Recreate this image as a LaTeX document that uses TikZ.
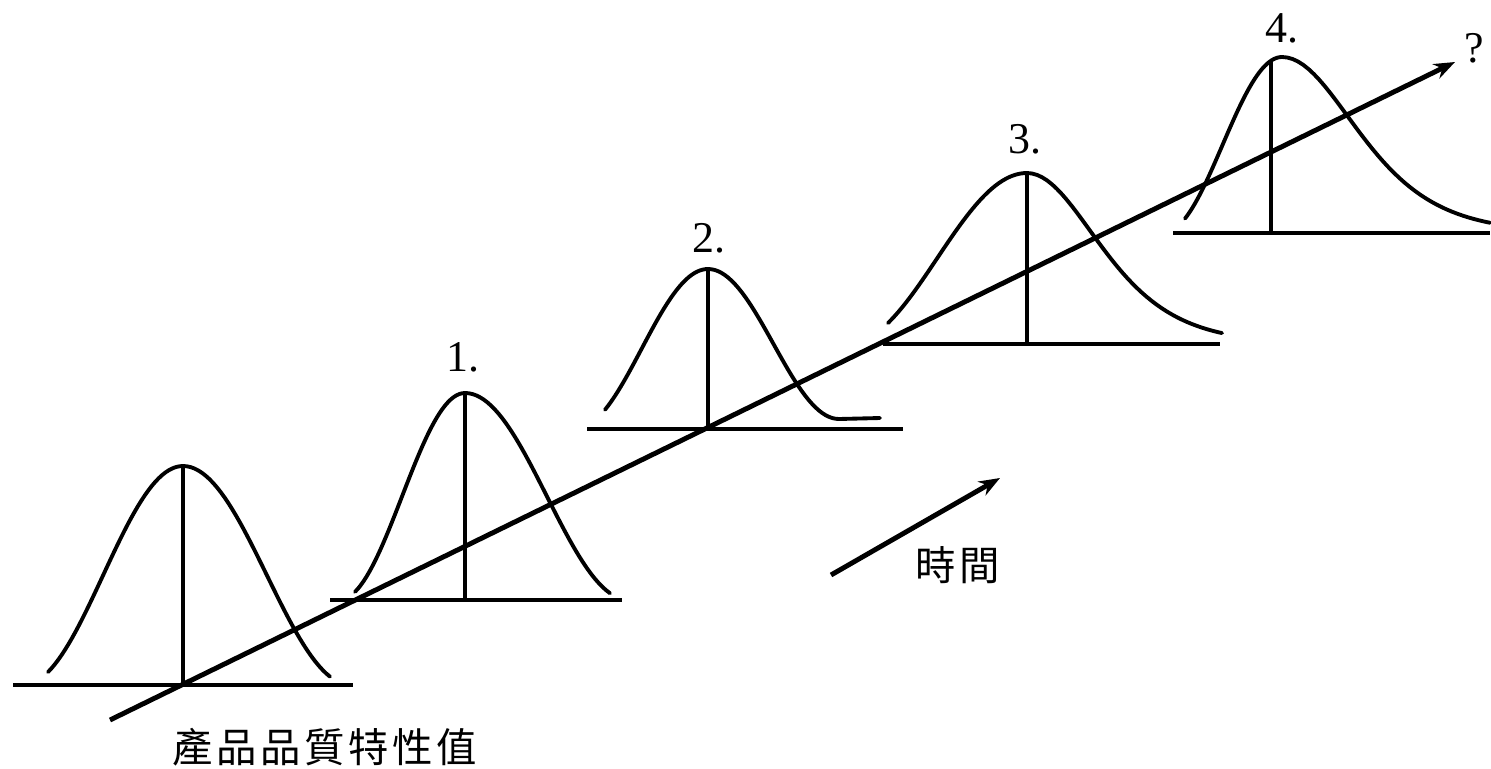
\documentclass[tikz,border=0pt]{standalone}
\usepackage{fontspec}
\setmainfont{Liberation Serif}
\newfontfamily\cjk[LetterSpace=9]{Noto Sans CJK TC}
\usetikzlibrary{arrows.meta, positioning}

\begin{document}
\begin{tikzpicture}[
      x=0.02cm, y=-0.02cm,
      bell/.style={line width=2.2pt, line cap=round, samples=40, variable=\x},
      base/.style={line width=1.8pt},
      mean/.style={line width=1.8pt},
      arr/.style={-{Stealth[length=12pt, width=9pt]}, line width=2.8pt},
      num/.style={font=\fontsize{25}{28}\selectfont, inner sep=0pt},
      cjklabel/.style={font=\cjk\fontsize{23}{26}\selectfont, inner sep=0pt}
    ]
    \useasboundingbox (0,0) rectangle (1491,768);

    % distribution 0
    \coordinate (b0l) at (13,685); \coordinate (b0r) at (353,685);
    \coordinate (p0) at (183,466); \coordinate (f0) at (183,685);
    \draw[base] (b0l) -- (b0r);
    \draw[mean] (p0) -- (f0);
    \draw[bell] plot[domain=48:183] (\x, {685-219*(1+cos((\x-183)/160*180))/2})
      -- plot[domain=183:330] (\x, {685-219*(1+cos((\x-183)/168*180))/2});

    % distribution 1
    \coordinate (b1l) at (330,600); \coordinate (b1r) at (622,600);
    \coordinate (p1) at (465,393); \coordinate (f1) at (465,600);
    \draw[base] (b1l) -- (b1r);
    \draw[mean] (p1) -- (f1);
    \draw[bell] plot[domain=355:465] (\x, {600-207*(1+cos((\x-465)/126*180))/2})
      -- plot[domain=465:610] (\x, {600-207*(1+cos((\x-465)/164*180))/2});
    \node[num] (l1) at (463,357) {1.};

    % distribution 2
    \coordinate (b2l) at (587,429); \coordinate (b2r) at (903,429);
    \coordinate (p2) at (708,269); \coordinate (f2) at (708,429);
    \draw[base] (b2l) -- (b2r);
    \draw[mean] (p2) -- (f2);
    \draw[bell] plot[domain=605:708] (\x, {429-160*(1+cos((\x-708)/133*180))/2})
      -- plot[domain=708:839] (\x, {419-150*(1+cos((\x-708)/131*180))/2})
      -- (880,418);
    \node[num] (l2) at (709,238) {2.};

    % distribution 3
    \coordinate (b3l) at (883,344); \coordinate (b3r) at (1220,344);
    \coordinate (p3) at (1027,173); \coordinate (f3) at (1027,344);
    \draw[base] (b3l) -- (b3r);
    \draw[mean] (p3) -- (f3);
    \draw[bell] plot[domain=888:1027] (\x, {344-171*(1+cos((\x-1027)/180*180))/2})
      -- plot[domain=1027:1222] (\x, {344-171/(cosh((\x-1027)/95))^2});
    \node[num] (l3) at (1025,139) {3.};

    % distribution 4
    \coordinate (b4l) at (1173,233); \coordinate (b4r) at (1490,233);
    \coordinate (p4) at (1271,60); \coordinate (f4) at (1271,233);
    \draw[base] (b4l) -- (b4r);
    \draw[mean] (p4) -- (f4);
    \draw[bell] plot[domain=1185:1282] (\x, {233-176*(1+cos((\x-1282)/119*180))/2})
      -- plot[domain=1282:1490] (\x, {233-176/(cosh((\x-1282)/99))^2});
    \node[num] (l4) at (1282,28) {4.};

    % trend and time arrows
    \coordinate (t0) at (110,720); \coordinate (t1) at (1455,62);
    \draw[arr] (t0) -- (t1);
    \node[num] (q) at (1474,48) {?};
    \coordinate (s0) at (831,575); \coordinate (s1) at (1000,478);
    \draw[arr] (s0) -- (s1);
    \node[cjklabel] (time) at (958,565) {時間};
    \node[cjklabel] (value) at (325,747) {產品品質特性值};
  \end{tikzpicture}
\end{document}
